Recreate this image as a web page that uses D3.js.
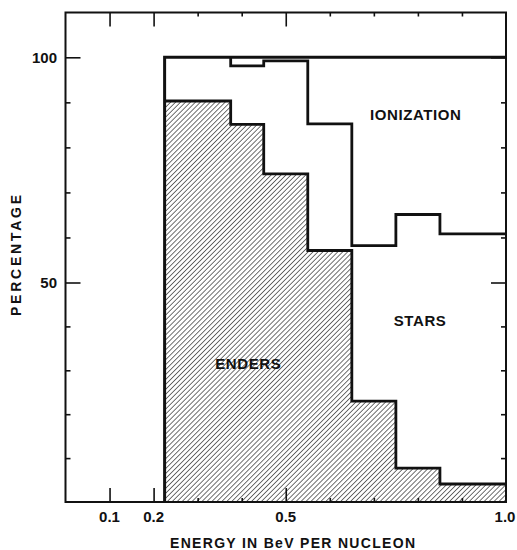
<!DOCTYPE html>
<html>
<head>
<meta charset="utf-8">
<script src="https://cdn.jsdelivr.net/npm/d3@7"></script>
<style>
  body { margin: 0; background: #fff; }
  svg text { font-family: "Liberation Sans", Arial, sans-serif; font-weight: bold; fill: #111; }
</style>
</head>
<body>
<div id="chart"></div>
<script>
// Data
const binEdges = [0.225, 0.375, 0.45, 0.55, 0.65, 0.75, 0.85, 1.0];
const enders = [90.3, 85.1, 74.1, 57.1, 23.0, 7.7, 4.1];
// top of "stars" band (enders + stars); the rest up to 100 is ionization
const endersPlusStars = [100, 98.1, 99.2, 85.2, 58.2, 65.1, 60.8];
const total = 100;

const xMajorTicks = [0.1, 0.2, 0.5];
const xMinorTicks = [0.3, 0.4, 0.6, 0.7, 0.8, 0.9];
const xTickLabels = [0.1, 0.2, 0.5, 1.0];
const yMajorTicks = [50, 100];
const yMinorTicks = [10, 20, 30, 40, 60, 70, 80, 90];
const regionLabels = [
  { text: "IONIZATION", x: 0.795, y: 86 },
  { text: "STARS", x: 0.805, y: 40 },
  { text: "ENDERS", x: 0.415, y: 30.3 },
];

const width = 517, height = 550;
const svg = d3.select("#chart").append("svg")
  .attr("width", width).attr("height", height);

// Scales
const x = d3.scaleLinear().domain([0, 1]).range([65.5, 506]);
// the original drawing is slightly compressed below 50
const y = d3.scaleLinear().domain([0, 50, 100, 110]).range([502, 282.5, 57.3, 12.5]);

// Hatch pattern
const defs = svg.append("defs");
const pat = defs.append("pattern")
  .attr("id", "hatch")
  .attr("patternUnits", "userSpaceOnUse")
  .attr("width", 3.5).attr("height", 3.5)
  .attr("patternTransform", "rotate(45)");
pat.append("line")
  .attr("x1", 0).attr("y1", 0).attr("x2", 0).attr("y2", 3.5)
  .attr("stroke", "#111").attr("stroke-width", 1.2);

const enderPts = binEdges.map((e, i) => [e, enders[Math.min(i, enders.length - 1)]]);
const starPts = [[binEdges[1], endersPlusStars[0]]].concat(
  binEdges.slice(1).map((e, i) => [e, endersPlusStars[Math.min(i + 1, endersPlusStars.length - 1)]])
);

// Hatched enders area
const area = d3.area()
  .curve(d3.curveStepAfter)
  .x((d) => x(d[0]))
  .y0(y(0))
  .y1((d) => y(d[1]));
svg.append("path")
  .attr("d", area(enderPts))
  .attr("fill", "url(#hatch)");

const line = d3.line().x((d) => x(d[0])).y((d) => y(d[1]));
const stepLine = d3.line().curve(d3.curveStepAfter).x((d) => x(d[0])).y((d) => y(d[1]));

// Ticks (inside frame)
const gAxes = svg.append("g").attr("class", "axes");
function axis(gen, transform, ticks, size) {
  const g = gAxes.append("g").attr("transform", transform)
    .call(gen.tickValues(ticks).tickSize(size).tickFormat(""));
  g.select(".domain").remove();
  g.selectAll(".tick line").attr("stroke", "#111").attr("stroke-width", 1.6);
}
axis(d3.axisBottom(x), `translate(0,${y(0)})`, xMajorTicks, -14);
axis(d3.axisBottom(x), `translate(0,${y(0)})`, xMinorTicks, -4);
axis(d3.axisTop(x), `translate(0,${y(110)})`, xMajorTicks, -14);
axis(d3.axisTop(x), `translate(0,${y(110)})`, xMinorTicks, -4);
axis(d3.axisLeft(y), `translate(${x(0)},0)`, yMajorTicks, -15);
axis(d3.axisLeft(y), `translate(${x(0)},0)`, yMinorTicks, -5);
axis(d3.axisRight(y), `translate(${x(1)},0)`, yMajorTicks, -15);
axis(d3.axisRight(y), `translate(${x(1)},0)`, yMinorTicks, -5);

// Frame
svg.append("rect")
  .attr("x", x(0)).attr("y", y(110))
  .attr("width", x(1) - x(0)).attr("height", y(0) - y(110))
  .attr("fill", "none").attr("stroke", "#111").attr("stroke-width", 2);

// Outline of the 100% envelope
svg.append("path")
  .attr("d", line([[binEdges[0], 0], [binEdges[0], total], [binEdges[binEdges.length - 1], total]]))
  .attr("fill", "none").attr("stroke", "#111").attr("stroke-width", 3);

// Stars / ionization boundary
svg.append("path")
  .attr("d", stepLine(starPts))
  .attr("fill", "none").attr("stroke", "#111").attr("stroke-width", 2.8);

// Enders boundary
svg.append("path")
  .attr("d", stepLine(enderPts))
  .attr("fill", "none").attr("stroke", "#111").attr("stroke-width", 2.8);

// Tick labels
svg.append("g").selectAll("text")
  .data(xTickLabels)
  .join("text")
  .attr("x", (d) => x(d) + (d === 1 ? -1 : 0))
  .attr("y", 522)
  .attr("text-anchor", "middle")
  .attr("font-size", 15)
  .text((d) => d3.format(".1f")(d));

svg.append("g").selectAll("text")
  .data(yMajorTicks)
  .join("text")
  .attr("x", 57)
  .attr("y", (d) => y(d))
  .attr("dy", "0.36em")
  .attr("text-anchor", "end")
  .attr("font-size", 15)
  .text((d) => d);

// Axis titles
svg.append("text")
  .attr("x", 170).attr("y", 548)
  .attr("font-size", 14)
  .attr("textLength", 245)
  .attr("lengthAdjust", "spacing")
  .text("ENERGY IN BeV PER NUCLEON");

svg.append("text")
  .attr("transform", "translate(21,316) rotate(-90)")
  .attr("font-size", 14)
  .attr("textLength", 121)
  .attr("lengthAdjust", "spacing")
  .text("PERCENTAGE");

// Region labels
svg.append("g").selectAll("text")
  .data(regionLabels)
  .join("text")
  .attr("x", (d) => x(d.x))
  .attr("y", (d) => y(d.y))
  .attr("text-anchor", "middle")
  .attr("font-size", 15)
  .attr("letter-spacing", 0.6)
  .text((d) => d.text);
</script>
</body>
</html>
